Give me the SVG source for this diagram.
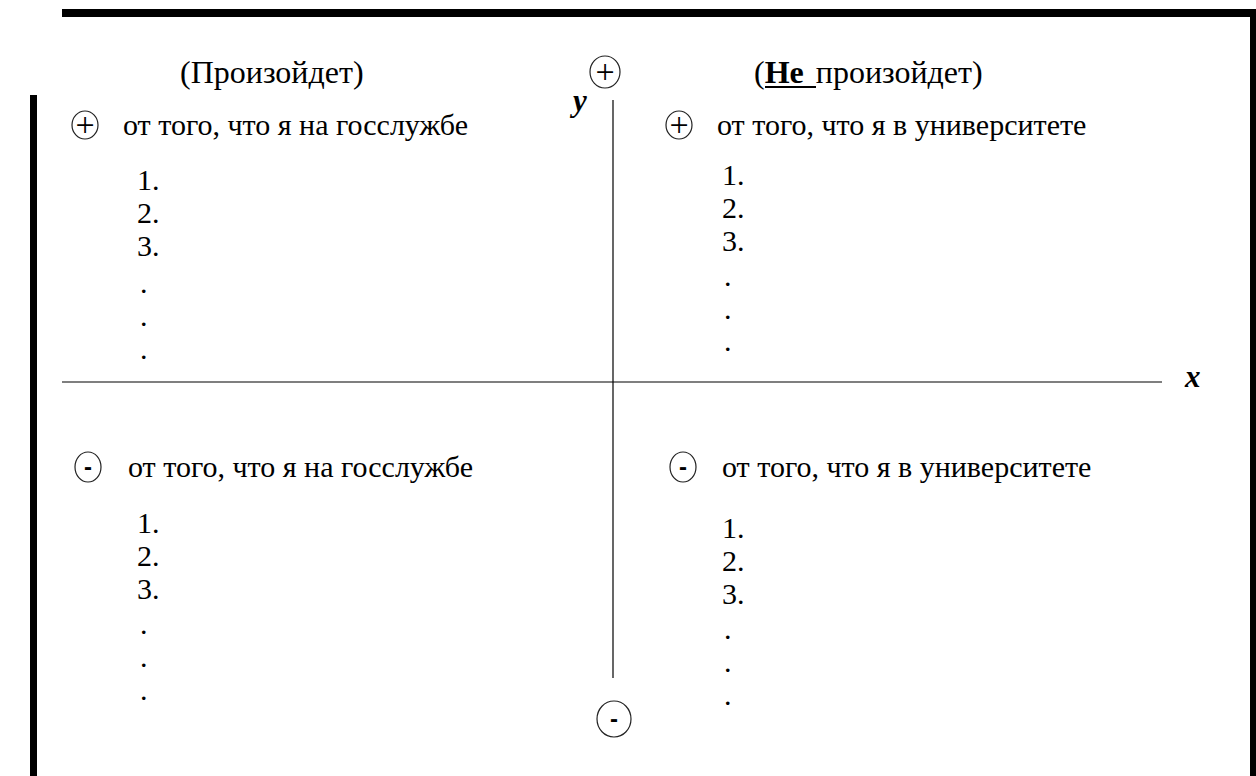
<svg xmlns="http://www.w3.org/2000/svg" width="1256" height="776" viewBox="0 0 1256 776">
  <style>
    text { font-family: "Liberation Serif", "Times New Roman", "DejaVu Serif", serif; fill: #000; }
    .t { font-size: 30px; }
    .h { font-size: 32px; }
    .ax { font-size: 31px; font-style: italic; font-weight: bold; }
    .ring { fill: none; stroke: #222; stroke-width: 1.2; }
    .plus { font-size: 34px; text-anchor: middle; }
    .minus { font-family: "Liberation Sans", Arial, sans-serif; font-size: 24px; font-weight: bold; text-anchor: middle; }
    .axis { stroke: #000; stroke-width: 1.2; fill: none; }
    .frame { fill: #000; }
  </style>
  <rect width="1256" height="776" fill="#fff"/>

  <!-- frame edges -->
  <g id="frame">
    <rect class="frame" x="62" y="9" width="1194" height="8"/>
    <rect class="frame" x="30" y="95" width="7" height="681"/>
    <rect class="frame" x="1250" y="9" width="6" height="767"/>
  </g>

  <!-- coordinate axes -->
  <g id="axes">
    <line class="axis" x1="613" y1="100" x2="613" y2="678"/>
    <line class="axis" x1="62" y1="382" x2="1162" y2="382"/>
  </g>

  <g id="axis-labels">
    <text class="ax" x="573" y="111">y</text>
    <text class="ax" x="1185" y="387">x</text>
  </g>

  <!-- pole markers on the vertical axis -->
  <g id="pole-plus">
    <ellipse class="ring" cx="605" cy="72" rx="15" ry="16"/>
    <text class="plus" x="605" y="83">+</text>
  </g>
  <g id="pole-minus">
    <ellipse class="ring" cx="614" cy="719" rx="17" ry="18"/>
    <text class="minus" x="614" y="727">-</text>
  </g>

  <!-- column headings -->
  <g id="head-left">
    <text class="h" x="180" y="83">(Произойдет)</text>
  </g>
  <g id="head-right">
    <text class="h" x="754" y="83" font-size="33">(<tspan font-weight="bold">Не</tspan><tspan dx="4"> произойдет)</tspan></text>
    <line x1="765" y1="87" x2="816" y2="87" stroke="#000" stroke-width="2"/>
  </g>

  <!-- upper left quadrant -->
  <g id="q1">
    <ellipse class="ring" cx="85" cy="125" rx="13" ry="14"/>
    <text class="plus" x="85" y="136">+</text>
    <text class="t" x="123" y="135">от того, что я на госслужбе</text>
    <text class="t" x="137" y="190">1.</text>
    <text class="t" x="137" y="223">2.</text>
    <text class="t" x="137" y="256">3.</text>
    <text class="t" x="140" y="293">.</text>
    <text class="t" x="140" y="326">.</text>
    <text class="t" x="140" y="359">.</text>
  </g>

  <!-- upper right quadrant -->
  <g id="q2">
    <ellipse class="ring" cx="679" cy="125" rx="13" ry="14"/>
    <text class="plus" x="679" y="136">+</text>
    <text class="t" x="717" y="135">от того, что я в университете</text>
    <text class="t" x="722" y="185">1.</text>
    <text class="t" x="722" y="218">2.</text>
    <text class="t" x="722" y="251">3.</text>
    <text class="t" x="724" y="286">.</text>
    <text class="t" x="724" y="319">.</text>
    <text class="t" x="724" y="351">.</text>
  </g>

  <!-- lower left quadrant -->
  <g id="q3">
    <ellipse class="ring" cx="88" cy="467" rx="13" ry="15"/>
    <text class="minus" x="88" y="475">-</text>
    <text class="t" x="128" y="477">от того, что я на госслужбе</text>
    <text class="t" x="137" y="533">1.</text>
    <text class="t" x="137" y="566">2.</text>
    <text class="t" x="137" y="599">3.</text>
    <text class="t" x="140" y="634">.</text>
    <text class="t" x="140" y="667">.</text>
    <text class="t" x="140" y="700">.</text>
  </g>

  <!-- lower right quadrant -->
  <g id="q4">
    <ellipse class="ring" cx="683" cy="467" rx="13" ry="15"/>
    <text class="minus" x="683" y="475">-</text>
    <text class="t" x="722" y="477">от того, что я в университете</text>
    <text class="t" x="722" y="538">1.</text>
    <text class="t" x="722" y="571">2.</text>
    <text class="t" x="722" y="604">3.</text>
    <text class="t" x="724" y="639">.</text>
    <text class="t" x="724" y="672">.</text>
    <text class="t" x="724" y="705">.</text>
  </g>
</svg>
